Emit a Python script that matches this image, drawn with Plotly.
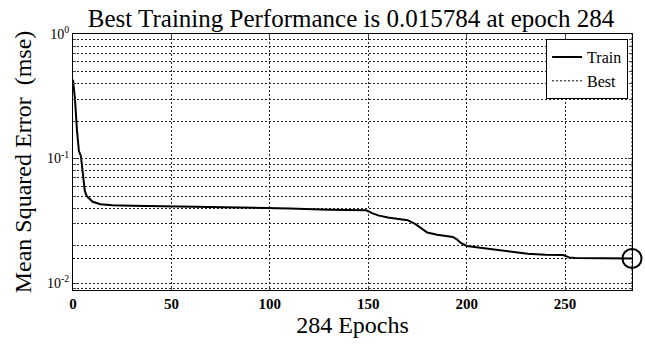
import plotly.graph_objects as go

# Data
epochs = [0, 1, 2, 3, 4, 5, 6, 7, 8, 10, 14, 20, 30, 50, 80, 100, 110, 130, 149, 152,
          155, 160, 166, 170, 174, 177, 180, 185, 193, 195, 197, 200, 208, 217, 225, 231,
          240, 249, 252, 255, 270, 284]
mse = [0.43, 0.30, 0.17, 0.115, 0.105, 0.075, 0.055, 0.05, 0.048, 0.045, 0.043, 0.0422,
       0.0418, 0.0413, 0.041, 0.0405, 0.0398, 0.0388, 0.0384, 0.0365, 0.035, 0.0336,
       0.0328, 0.032, 0.0298, 0.0275, 0.0255, 0.0245, 0.0235, 0.0225, 0.021, 0.0199,
       0.0192, 0.0185, 0.0178, 0.0172, 0.0169, 0.0168, 0.0161, 0.0159, 0.01582, 0.015784]
best_epoch = 284
best_perf = 0.015784
x_ticks = [0, 50, 100, 150, 200, 250]
y_ticks = [0.01, 0.1, 1]
y_tick_text = ["10<sup>-2</sup>", "10<sup>-1</sup>", "10<sup>0</sup>"]

FONT = "Liberation Serif"
GRID = "#222222"
DASH = "2px,2px"

fig = go.Figure()
fig.add_trace(go.Scatter(x=epochs, y=mse, mode="lines", name="Train",
                         line=dict(color="black", width=2)))
fig.add_trace(go.Scatter(x=[0, best_epoch], y=[best_perf, best_perf], mode="lines",
                         name="Best", line=dict(color="black", width=1, dash=DASH)))
fig.add_trace(go.Scatter(x=[best_epoch, best_epoch], y=[0.008, 1], mode="lines",
                         showlegend=False, line=dict(color="black", width=1, dash=DASH)))
fig.add_trace(go.Scatter(x=[best_epoch], y=[best_perf], mode="markers", showlegend=False,
                         cliponaxis=False,
                         marker=dict(symbol="circle-open", size=19,
                                     line=dict(color="black", width=2), color="black")))

fig.update_layout(
    width=645, height=346,
    margin=dict(l=73, r=12, t=34, b=49),
    paper_bgcolor="white", plot_bgcolor="white",
    font=dict(family=FONT, color="black", size=14),
    title=dict(text="Best Training Performance is 0.015784 at epoch 284",
               x=351 / 645, xanchor="center", y=1 - 18 / 346, yanchor="middle",
               font=dict(size=25, family=FONT)),
    legend=dict(x=0.993, y=0.98, xanchor="right", yanchor="top",
                bgcolor="white", bordercolor="black", borderwidth=1,
                font=dict(size=16, family=FONT), tracegroupgap=0),
    showlegend=True,
)
fig.update_xaxes(
    range=[0, 284], tickvals=x_ticks, ticks="inside", ticklen=4,
    showline=True, linecolor="black", linewidth=1, mirror="allticks",
    showgrid=True, gridcolor=GRID, gridwidth=1, griddash=DASH,
    zeroline=False, tickfont=dict(size=15, family=FONT, weight="bold"),
    title=dict(text="284 Epochs", font=dict(size=24, family=FONT), standoff=5),
)
fig.update_yaxes(
    type="log", range=[-2.055, 0], tickvals=y_ticks, ticktext=y_tick_text,
    ticks="inside", ticklen=4,
    showline=True, linecolor="black", linewidth=1, mirror="allticks",
    showgrid=True, gridcolor=GRID, gridwidth=1, griddash=DASH,
    minor=dict(dtick="D1", showgrid=True, gridcolor=GRID, gridwidth=1,
               griddash=DASH, ticks="inside", ticklen=3),
    zeroline=False, tickfont=dict(size=14, family=FONT),
    title=dict(text="Mean Squared Error  (mse)", font=dict(size=24, family=FONT), standoff=8),
)

fig.write_html("out.html")
